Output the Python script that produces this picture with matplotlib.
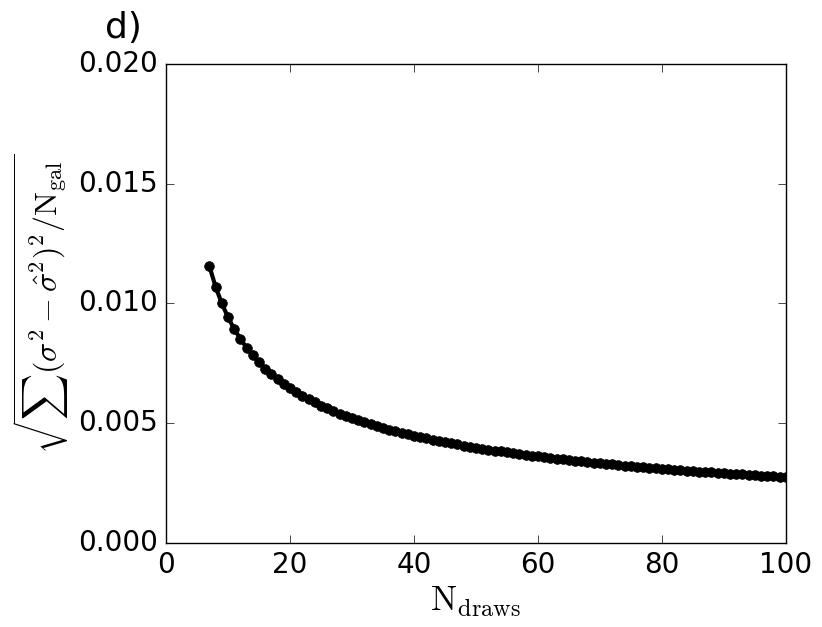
import numpy as np
import matplotlib
matplotlib.use("Agg")
import matplotlib.pyplot as plt

# number of draws and rms error
n_draws = list(range(7, 101))
rms_err = [
    0.011553, 0.010692, 0.009999, 0.009423, 0.008937, 0.008518, 0.008152, 0.007830,
    0.007542, 0.007284, 0.007050, 0.006837, 0.006642, 0.006463, 0.006297, 0.006143,
    0.005999, 0.005866, 0.005740, 0.005622, 0.005511, 0.005406, 0.005307, 0.005212,
    0.005123, 0.005038, 0.004957, 0.004879, 0.004805, 0.004735, 0.004667, 0.004601,
    0.004539, 0.004479, 0.004421, 0.004365, 0.004311, 0.004259, 0.004209, 0.004161,
    0.004114, 0.004068, 0.004024, 0.003981, 0.003940, 0.003900, 0.003861, 0.003823,
    0.003786, 0.003750, 0.003715, 0.003681, 0.003648, 0.003615, 0.003584, 0.003553,
    0.003523, 0.003494, 0.003465, 0.003437, 0.003410, 0.003383, 0.003357, 0.003331,
    0.003306, 0.003281, 0.003257, 0.003234, 0.003211, 0.003188, 0.003166, 0.003144,
    0.003123, 0.003102, 0.003081, 0.003061, 0.003041, 0.003022, 0.003003, 0.002984,
    0.002965, 0.002947, 0.002929, 0.002912, 0.002895, 0.002878, 0.002861, 0.002844,
    0.002828, 0.002812, 0.002796, 0.002781, 0.002766, 0.002751,
]
xticks = [0, 20, 40, 60, 80, 100]
yticks = [0.000, 0.005, 0.010, 0.015, 0.020]

plt.style.use("classic")
plt.rcParams["mathtext.fontset"] = "cm"

fig = plt.figure(figsize=(8.22, 6.27), dpi=100)
ax = fig.add_axes([0.202, 0.134, 0.754, 0.764])

ax.plot(n_draws, rms_err, "k-", lw=3, marker="o", ms=7, mfc="k", mec="k")

ax.set_xlim(0, 100)
ax.set_ylim(0, 0.020)
ax.set_xticks(xticks)
ax.set_yticks(yticks)
ax.set_yticklabels(["%.3f" % v for v in yticks])
ax.tick_params(labelsize=20, direction="in", length=6, pad=6)

ax.set_xlabel(r"$\mathrm{N_{draws}}$", fontsize=25, labelpad=4)
ax.set_ylabel(r"$\sqrt{\sum(\sigma^2-\hat{\sigma}^2)^2/\mathrm{N_{gal}}}$", fontsize=23, labelpad=4)

fig.text(0.128, 0.955, "d)", fontsize=26, ha="left", va="center")

fig.savefig("out.png", dpi=100)
